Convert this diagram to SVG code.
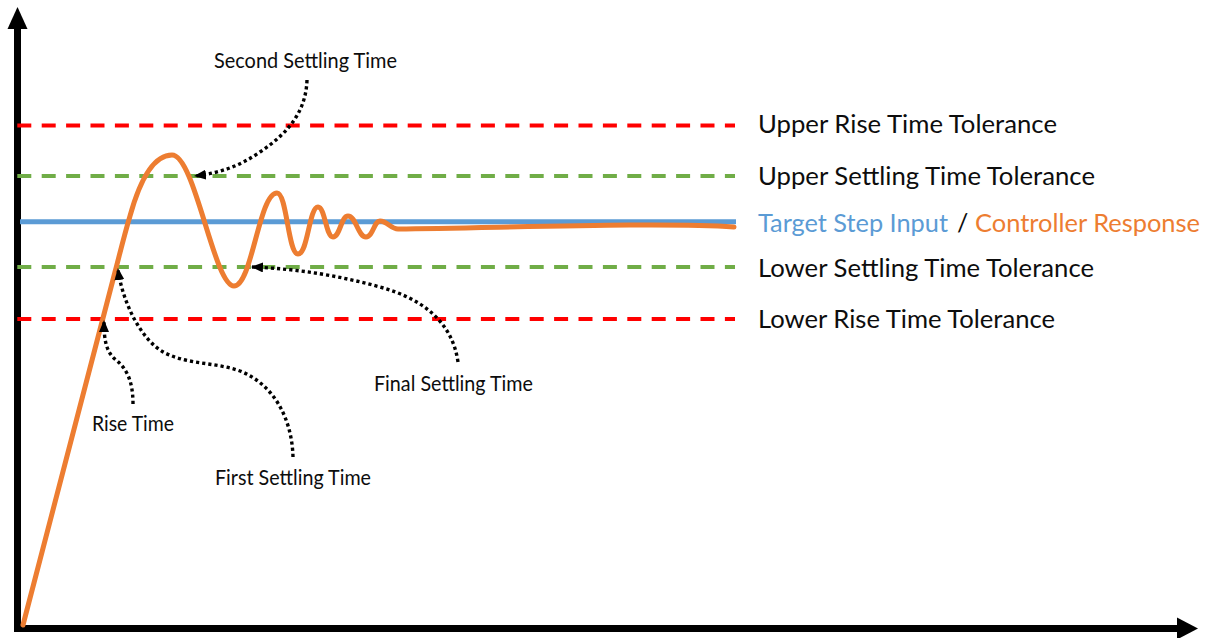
<svg xmlns="http://www.w3.org/2000/svg" width="1209" height="638" viewBox="0 0 1209 638">
  <style>
    .axis { stroke: #000; stroke-width: 7; fill: none; }
    .head { fill: #000; }
    .tol-red { stroke: #FF0000; stroke-width: 4; stroke-dasharray: 14 10.4; fill: none; }
    .tol-green { stroke: #70AD47; stroke-width: 4; stroke-dasharray: 14 10.4; fill: none; }
    .target { stroke: #5B9BD5; stroke-width: 5; fill: none; }
    .response { stroke: #ED7D31; stroke-width: 5; fill: none; stroke-linejoin: round; stroke-linecap: round; }
    .pointer { stroke: #000; stroke-width: 3.4; stroke-dasharray: 3.2 3; fill: none; marker-end: url(#tip); }
    .lbl { font-family: Lato, "Open Sans", "Liberation Sans", sans-serif; fill: #0d0d0d; }
    .big { font-size: 25px; }
    .small { font-size: 20.5px; }
  </style>
  <defs>
    <marker id="tip" markerUnits="userSpaceOnUse" markerWidth="12" markerHeight="10" viewBox="0 0 12 10" refX="11" refY="5" orient="auto">
      <path d="M0,0 L12,5 L0,10 z" fill="#000"/>
    </marker>
  </defs>

  <rect width="1209" height="638" fill="#fff"/>

  <!-- axes -->
  <g id="axes">
    <line class="axis" x1="17.5" y1="27" x2="17.5" y2="632"/>
    <polygon class="head" points="17.5,7 7.5,29 27.5,29"/>
    <line class="axis" x1="14" y1="628.5" x2="1180" y2="628.5"/>
    <polygon class="head" points="1198,628.5 1177,617.5 1177,639.5"/>
  </g>

  <!-- tolerance bands -->
  <g id="tolerances">
    <line class="tol-red" x1="17.3" y1="125.5" x2="735" y2="125.5"/>
    <line class="tol-green" x1="17.3" y1="176" x2="735" y2="176"/>
    <line class="tol-green" x1="17.3" y1="267" x2="735" y2="267"/>
    <line class="tol-red" x1="17.3" y1="319" x2="735" y2="319"/>
  </g>

  <!-- step input and response -->
  <g id="signals">
    <line class="target" x1="20" y1="221.7" x2="736" y2="221.7"/>
    <path class="response" d="M23,625 L115,272 C119,257 124,236 130,216 C140,180 154,155 172,155 C195,155 214,286 234,286 C252,286 259,193 277,193 C287,193 288,254 298,254 C308,254 309,207 318,207 C325,207 326,237 333,237 C340,237 341,216 348,216 C356,216 358,237 366,237 C373,237 374,221 380,221 C387,221 391,229 398,229 C500,228 660,222 734,227"/>
  </g>

  <!-- annotation pointers -->
  <g id="connectors">
    <path class="pointer" d="M307,80 C306,110 290,132 260,152 C240,166 220,173 195,176"/>
    <path class="pointer" d="M133,404 C133,380 126,368 116,360 C106,352 104,340 104,321"/>
    <path class="pointer" d="M293,457 C292,420 275,385 240,371 C215,362 190,365 165,353 C140,340 122,300 118,269"/>
    <path class="pointer" d="M458,362 C452,320 420,298 380,287 C340,276 300,269 252,267"/>
  </g>

  <!-- annotation labels -->
  <g id="label-second-settling"><text class="lbl small" x="214" y="68" textLength="183" lengthAdjust="spacingAndGlyphs">Second Settling Time</text></g>
  <g id="label-rise"><text class="lbl small" x="92" y="431" textLength="82" lengthAdjust="spacingAndGlyphs">Rise Time</text></g>
  <g id="label-first-settling"><text class="lbl small" x="215" y="485" textLength="156" lengthAdjust="spacingAndGlyphs">First Settling Time</text></g>
  <g id="label-final-settling"><text class="lbl small" x="374" y="391" textLength="159" lengthAdjust="spacingAndGlyphs">Final Settling Time</text></g>

  <!-- legend labels -->
  <g id="label-upper-rise"><text class="lbl big" x="758" y="133" textLength="299" lengthAdjust="spacingAndGlyphs">Upper Rise Time Tolerance</text></g>
  <g id="label-upper-settling"><text class="lbl big" x="758" y="185" textLength="337" lengthAdjust="spacingAndGlyphs">Upper Settling Time Tolerance</text></g>
  <g id="label-signals">
    <text class="lbl big" y="231.5">
      <tspan x="758" fill="#5B9BD5" textLength="190" lengthAdjust="spacingAndGlyphs">Target Step Input</tspan>
      <tspan x="957" fill="#0d0d0d">/</tspan>
      <tspan x="975" fill="#ED7D31" textLength="225" lengthAdjust="spacingAndGlyphs">Controller Response</tspan>
    </text>
  </g>
  <g id="label-lower-settling"><text class="lbl big" x="758" y="277" textLength="336" lengthAdjust="spacingAndGlyphs">Lower Settling Time Tolerance</text></g>
  <g id="label-lower-rise"><text class="lbl big" x="758" y="328" textLength="297" lengthAdjust="spacingAndGlyphs">Lower Rise Time Tolerance</text></g>
</svg>
